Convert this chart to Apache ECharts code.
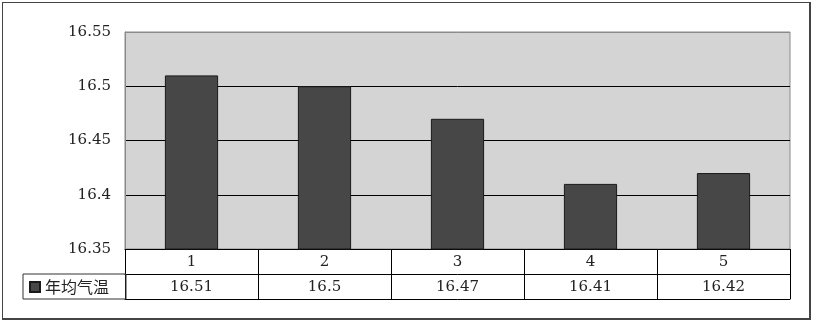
<!DOCTYPE html>
<html><head><meta charset="utf-8">
<script src="https://cdn.jsdelivr.net/npm/echarts@6/dist/echarts.min.js"></script>
<style>
html,body{margin:0;padding:0;background:#fff;}
#frame{position:absolute;left:2px;top:2px;width:806px;height:315px;border:1px solid #444;border-right-width:2px;border-bottom-width:2px;}
#main{position:absolute;left:0;top:0;width:814px;height:323px;}
</style></head>
<body>
<div id="frame"></div>
<div id="main"></div>
<script>
const categories = ['1', '2', '3', '4', '5'];
const seriesName = '年均气温';
const values = [16.51, 16.5, 16.47, 16.41, 16.42];
const valueLabels = ['16.51', '16.5', '16.47', '16.41', '16.42'];
const yMin = 16.35, yMax = 16.55, yStep = 0.05;

const serif = '"DejaVu Serif", "Liberation Serif", serif';
const chart = echarts.init(document.getElementById('main'), null, {renderer: 'canvas'});
chart.setOption({
  animation: false,
  grid: {left: 125, right: 24, top: 32, bottom: 74, show: true, backgroundColor: '#d4d4d4', borderColor: '#8a8a8a', borderWidth: 1},
  legend: {
    data: [seriesName], left: 23, top: 274, orient: 'horizontal',
    icon: 'rect', itemWidth: 10, itemHeight: 10,
    padding: [5, 17, 4, 6], borderColor: '#333', borderWidth: 1,
    textStyle: {fontFamily: '"Noto Sans CJK SC", sans-serif', fontSize: 16, color: '#222'}
  },
  xAxis: [
    {type: 'category', data: categories, position: 'bottom', gridIndex: 0,
     axisLine: {show: true, lineStyle: {color: '#000', width: 1}},
     axisTick: {show: true, length: 50, lineStyle: {color: '#000'}},
     axisLabel: {margin: 6, fontFamily: serif, fontSize: 15, color: '#222'}},
    {type: 'category', data: valueLabels, position: 'bottom', offset: 25, gridIndex: 0,
     axisLine: {show: true, lineStyle: {color: '#000', width: 1}},
     axisTick: {show: false},
     axisLabel: {margin: 6, fontFamily: serif, fontSize: 15, color: '#222'}},
    {type: 'category', data: categories, position: 'bottom', offset: 50, gridIndex: 0,
     axisLine: {show: true, lineStyle: {color: '#000', width: 1}},
     axisTick: {show: false}, axisLabel: {show: false}}
  ],
  yAxis: {
    type: 'value', min: yMin, max: yMax, interval: yStep,
    axisLine: {show: true, lineStyle: {color: '#8a8a8a'}},
    axisTick: {show: false},
    axisLabel: {margin: 14, fontFamily: serif, fontSize: 15, color: '#222'},
    splitLine: {show: true, lineStyle: {color: ['#000', '#000', '#000', '#000', '#8a8a8a'], width: 1}}
  },
  series: [{
    name: seriesName, type: 'bar', data: values, xAxisIndex: 0, barWidth: '40%',
    itemStyle: {color: '#474747', borderColor: '#1a1a1a', borderWidth: 1}
  }]
});
</script>
</body></html>
